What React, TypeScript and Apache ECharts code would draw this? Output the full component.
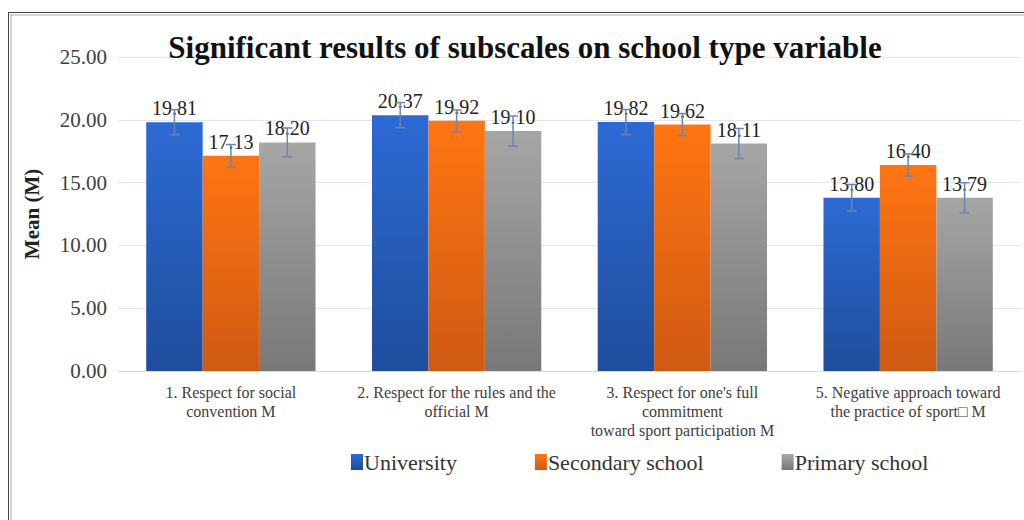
import React, { useEffect, useRef } from "react";
import * as echarts from "echarts";

const categories = [
  "1. Respect for social\nconvention M",
  "2. Respect for the rules and the\nofficial M",
  "3. Respect for one's full\ncommitment\ntoward sport participation M",
  "5. Negative approach toward\nthe practice of sport\u25A1 M",
];
const seriesNames = ["University", "Secondary school", "Primary school"];
const university = [19.81, 20.37, 19.82, 13.8];
const secondary = [17.13, 19.92, 19.62, 16.4];
const primary = [18.2, 19.1, 18.11, 13.79];
const universityErr = [1.0, 1.0, 1.0, 1.05];
const secondaryErr = [0.9, 0.86, 0.88, 0.88];
const primaryErr = [1.15, 1.2, 1.2, 1.2];
const yTicks = [0, 5, 10, 15, 20, 25];

const SERIF = "Liberation Serif";

export default function App() {
  const ref = useRef<HTMLDivElement>(null);
  useEffect(() => {
    if (!ref.current) return;
    const chart = echarts.init(ref.current, undefined, { renderer: "svg" });
    const grad = (top: string, bottom: string) =>
      new echarts.graphic.LinearGradient(0, 0, 0, 1, [
        { offset: 0, color: top },
        { offset: 1, color: bottom },
      ]);
    const colors = [
      grad("#2c6ad4", "#1f4d9c"),
      grad("#ff7512", "#cf5a12"),
      grad("#a6a6a6", "#787878"),
    ];
    const values = [university, secondary, primary];
    const errs = [universityErr, secondaryErr, primaryErr];
    const catGap = 0.25;

    const barSeries = seriesNames.map((name, i) => ({
      name,
      type: "bar",
      data: values[i],
      barGap: "0%",
      barCategoryGap: "25%",
      itemStyle: { color: colors[i] },
      label: {
        show: true,
        position: "top",
        distance: 4,
        formatter: (p: any) => Number(p.value).toFixed(2),
        fontFamily: SERIF,
        fontSize: 20,
        color: "#222",
      },
      z: 2,
    }));

    const errData: any[] = [];
    values.forEach((vals, si) => {
      vals.forEach((v, ci) => {
        errData.push([ci, v - errs[si][ci], v + errs[si][ci], si]);
      });
    });

    const errSeries = {
      type: "custom",
      name: "err",
      data: errData,
      z: 5,
      silent: true,
      renderItem: (params: any, api: any) => {
        const ci = api.value(0);
        const si = api.value(3);
        const lo = api.coord([ci, api.value(1)]);
        const hi = api.coord([ci, api.value(2)]);
        const bw = (api.size([1, 0])[0] * (1 - catGap)) / 3;
        const x = lo[0] + (si - 1) * bw;
        const cap = 5;
        const style = { stroke: "#6a86ae", lineWidth: 1.5 };
        return {
          type: "group",
          children: [
            { type: "line", shape: { x1: x, y1: lo[1], x2: x, y2: hi[1] }, style },
            { type: "line", shape: { x1: x - cap, y1: lo[1], x2: x + cap, y2: lo[1] }, style },
            { type: "line", shape: { x1: x - cap, y1: hi[1], x2: x + cap, y2: hi[1] }, style },
          ],
        };
      },
    };

    chart.setOption({
      animation: false,
      backgroundColor: "#ffffff",
      title: {
        text: "Significant results of subscales on school type variable",
        left: 520,
        textAlign: "center",
        top: 27,
        textStyle: {
          fontFamily: "'Times New Roman', 'Liberation Serif', serif",
          fontSize: 31,
          fontWeight: "bold",
          color: "#111",
        },
      },
      legend: {
        data: seriesNames,
        left: 346,
        top: 446,
        itemWidth: 12,
        itemHeight: 16,
        itemGap: 78,
        icon: "rect",
        textStyle: { fontFamily: SERIF, fontSize: 22, color: "#333", padding: [0, 0, 0, -4] },
      },
      grid: { left: 118, right: 3, top: 57, bottom: 149, containLabel: false },
      xAxis: {
        type: "category",
        data: categories,
        axisLine: { show: true, lineStyle: { color: "#d9d9d9", width: 1 } },
        axisTick: { show: false },
        axisLabel: {
          fontFamily: SERIF,
          fontSize: 16,
          color: "#404040",
          lineHeight: 19,
          margin: 12,
          interval: 0,
        },
      },
      yAxis: {
        type: "value",
        min: yTicks[0],
        max: yTicks[yTicks.length - 1],
        interval: 5,
        name: "Mean (M)",
        nameLocation: "middle",
        nameGap: 76,
        nameRotate: 90,
        nameTextStyle: { fontFamily: SERIF, fontSize: 21, fontWeight: "bold", color: "#222" },
        axisLine: { show: false },
        axisTick: { show: false },
        splitLine: { lineStyle: { color: "#e3e6ee", width: 1 } },
        axisLabel: {
          fontFamily: SERIF,
          fontSize: 21,
          color: "#404040",
          margin: 11,
          formatter: (v: number) => v.toFixed(2),
        },
      },
      graphic: [
        { type: "line", shape: { x1: 8, y1: 12.5, x2: 1024, y2: 12.5 }, style: { stroke: "#444", lineWidth: 1 }, z: 10 },
        { type: "line", shape: { x1: 10, y1: 15, x2: 1024, y2: 15 }, style: { stroke: "#aaa", lineWidth: 1 }, z: 10 },
        { type: "line", shape: { x1: 8.5, y1: 12, x2: 8.5, y2: 520 }, style: { stroke: "#444", lineWidth: 1 }, z: 10 },
        { type: "line", shape: { x1: 11, y1: 15, x2: 11, y2: 520 }, style: { stroke: "#aaa", lineWidth: 1 }, z: 10 },
      ],
      series: [...barSeries, errSeries],
    });
    return () => chart.dispose();
  }, []);
  return (
    <div
      ref={ref}
      style={{ position: "fixed", left: 0, top: 0, width: 1024, height: 520, background: "#fff" }}
    />
  );
}
